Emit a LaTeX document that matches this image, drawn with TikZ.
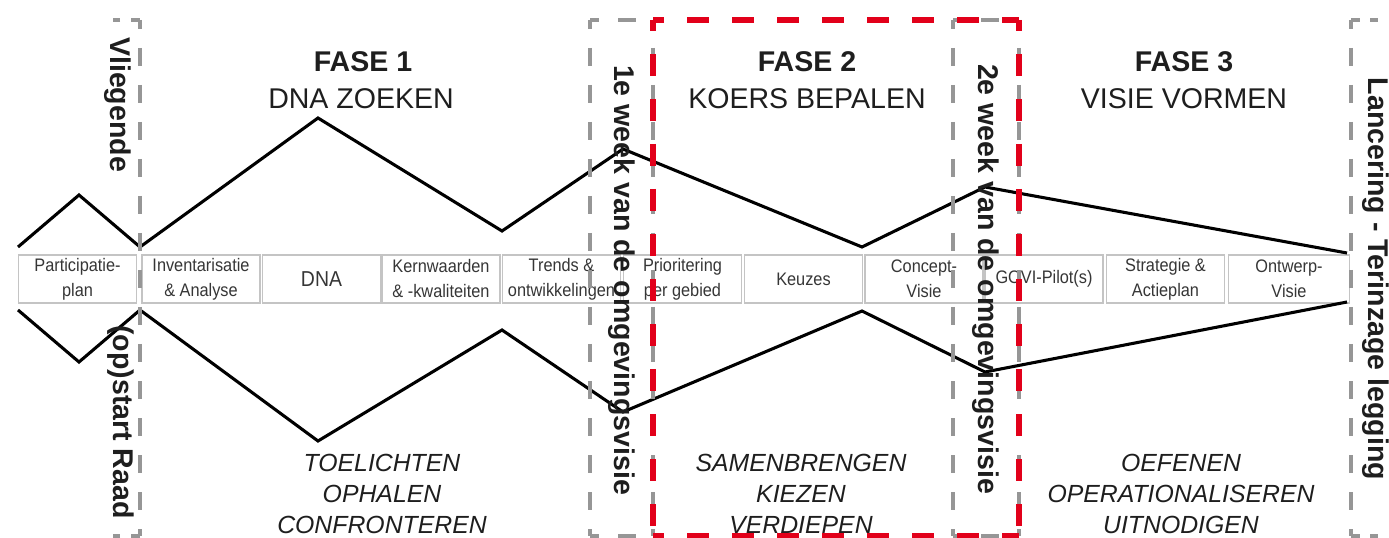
\documentclass[tikz,border=0pt]{standalone}
\usepackage{fontspec}
\setmainfont{Liberation Sans}
\newfontfamily\boxfont{Liberation Sans}[FakeStretch=0.9]
\definecolor{dgray}{HTML}{969696}
\definecolor{dred}{HTML}{E2001A}
\definecolor{boxline}{HTML}{C4C4C4}
\definecolor{boxtext}{HTML}{363636}
\definecolor{ink}{HTML}{1E1E1E}
\tikzset{
  stepbox/.style={draw=boxline, line width=1.1pt, minimum width=88.5pt, minimum height=36pt,
    inner sep=0pt, align=center, text=boxtext, font=\boxfont\fontsize{13.6}{18.75}\selectfont},
  zig/.style={line width=2.3pt, black, line join=miter},
  gd/.style={draw=dgray, line width=3.3pt, dash pattern=on 13.5pt off 14.25pt, dash phase=6.75pt},
  rd/.style={draw=dred, line width=3.8pt, dash pattern=on 16.5pt off 17.25pt, dash phase=8.25pt},
  title/.style={text=ink, font=\fontsize{21.4}{26}\selectfont\bfseries, inner sep=0pt},
  subtitle/.style={text=ink, font=\fontsize{21.4}{26}\selectfont, inner sep=0pt},
  verbs/.style={text=ink, align=center, inner sep=0pt, font=\fontsize{18.6}{23}\selectfont\itshape},
  milestone/.style={text=ink, rotate=-90, inner sep=0pt, font=\fontsize{21.4}{26}\selectfont\bfseries},
}
\begin{document}
\begin{tikzpicture}[x=0.75pt,y=-0.75pt]
\useasboundingbox (0,0) rectangle (1389,538);
\fill[white] (0,0) rectangle (1389,538);

% boxes
\node[stepbox] (b1) at (77.5,279) {Participatie-\\plan};
\node[stepbox] (b2) at (201,279) {Inventarisatie\\\& Analyse};
\node[stepbox, font=\boxfont\fontsize{16.2}{18.75}\selectfont] (b3) at (321.5,279) {DNA};
\node[stepbox] (b4) at (441,279) {Kernwaarden\\\& -kwaliteiten};
\node[stepbox] (b5) at (561.5,279) {Trends \&\\ontwikkelingen};
\node[stepbox] (b6) at (682.5,279) {Prioritering\\per gebied};
\node[stepbox] (b7) at (803.5,279) {Keuzes};
\node[stepbox] (b8) at (924,279) {Concept-\\Visie};
\node[stepbox] (b9) at (1044,279) {GOVI-Pilot(s)};
\node[stepbox] (b10) at (1165.5,279) {Strategie \&\\Actieplan};
\node[stepbox, minimum width=90.75pt] (b11) at (1289,279) {Ontwerp-\\Visie};

% zigzag lines
\coordinate (u1) at (18,247);  \coordinate (u2) at (79,195);  \coordinate (u3) at (140,247);
\coordinate (u4) at (318,118); \coordinate (u5) at (502,231); \coordinate (u6) at (623,149);
\coordinate (u7) at (862,247); \coordinate (u8) at (985,187); \coordinate (u9) at (1347,253);
\coordinate (l1) at (18,310);  \coordinate (l2) at (79,362);  \coordinate (l3) at (140,310);
\coordinate (l4) at (318,441); \coordinate (l5) at (502,330); \coordinate (l6) at (623,412);
\coordinate (l7) at (862,311); \coordinate (l8) at (985,372); \coordinate (l9) at (1347,302);
\draw[zig] (u1) -- (u2) -- (u3) -- (u4) -- (u5) -- (u6) -- (u7) -- (u8) -- (u9);
\draw[zig] (l1) -- (l2) -- (l3) -- (l4) -- (l5) -- (l6) -- (l7) -- (l8) -- (l9);

% gray dashed milestone frames
\coordinate (r1t) at (140,20); \coordinate (r1b) at (140,536);
\draw[gd] (r1t) -- (r1b);
\draw[draw=dgray, line width=3.3pt, dash pattern=on 6.75pt off 8.25pt on 5.25pt off 40pt] (r1t) -- (113,20);
\draw[draw=dgray, line width=3.3pt, dash pattern=on 6.75pt off 8.25pt on 5.25pt off 40pt] (r1b) -- (113,536);

\coordinate (r2a) at (590,20); \coordinate (r2b) at (653,20);
\coordinate (r2c) at (653,536); \coordinate (r2d) at (590,536);
\draw[gd] (r2a) -- (r2b); \draw[gd] (r2a) -- (r2d); \draw[gd] (r2b) -- (r2c); \draw[gd] (r2d) -- (r2c);

\coordinate (r3a) at (953,20); \coordinate (r3b) at (1019,20);
\coordinate (r3c) at (1019,536); \coordinate (r3d) at (953,536);
\draw[gd] (r3a) -- (r3b); \draw[gd] (r3a) -- (r3d); \draw[gd] (r3b) -- (r3c); \draw[gd] (r3d) -- (r3c);

\coordinate (r4t) at (1351,20); \coordinate (r4b) at (1351,536);
\draw[gd] (r4t) -- (r4b);
\draw[draw=dgray, line width=3.3pt, dash pattern=on 6.75pt off 7.5pt on 6pt off 40pt] (r4t) -- (1380,20);
\draw[draw=dgray, line width=3.3pt, dash pattern=on 6.75pt off 7.5pt on 6pt off 40pt] (r4b) -- (1380,536);

% red dashed frame
\coordinate (ra) at (653,20); \coordinate (rb) at (1019,20);
\coordinate (rc) at (1019,536); \coordinate (rd) at (653,536);
\draw[rd] (ra) -- (rb); \draw[rd] (ra) -- (rd); \draw[rd] (rb) -- (rc); \draw[rd] (rd) -- (rc);

% titles
\node[title] (f1) at (363,62) {FASE 1};
\node[subtitle] (s1) at (361,99) {DNA ZOEKEN};
\node[title] (f2) at (807,62) {FASE 2};
\node[subtitle] (s2) at (807,99) {KOERS BEPALEN};
\node[title] (f3) at (1184,62) {FASE 3};
\node[subtitle] (s3) at (1184,99) {VISIE VORMEN};

% verbs
\node[verbs] (v1) at (382,494) {TOELICHTEN\\OPHALEN\\CONFRONTEREN};
\node[verbs] (v2) at (801,494) {SAMENBRENGEN\\KIEZEN\\VERDIEPEN};
\node[verbs] (v3) at (1181,494) {OEFENEN\\OPERATIONALISEREN\\UITNODIGEN};

% milestones
\node[milestone] (m1) at (118,104.5) {Vliegende};
\node[milestone] (m2) at (121,422) {(op)start Raad};
\node[milestone] (m3) at (622,280) {1e week van de omgevingsvisie};
\node[milestone] (m4) at (986,279) {2e week van de omgevingsvisie};
\node[milestone] (m5) at (1376,279) {Lancering - Terinzage legging};
\end{tikzpicture}
\end{document}
